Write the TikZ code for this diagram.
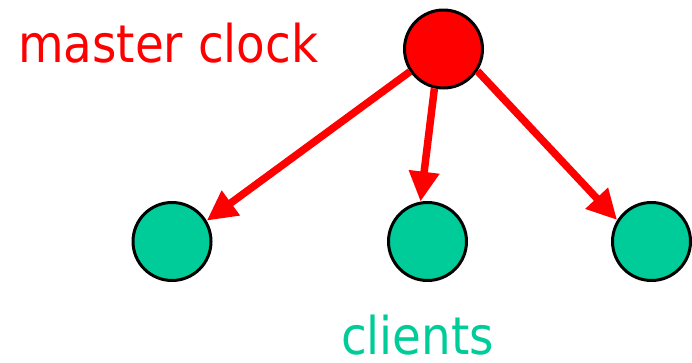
\documentclass[tikz,border=0pt]{standalone}
\usepackage{fontspec}
\setmainfont{DejaVu Sans Condensed}
\usetikzlibrary{arrows.meta}
\definecolor{clientgreen}{RGB}{0,204,153}
\definecolor{clockred}{RGB}{255,0,0}
\tikzset{
  master/.style={circle, draw=black, line width=3pt, fill=clockred, minimum size=78pt, inner sep=0pt},
  client/.style={circle, draw=black, line width=3pt, fill=clientgreen, minimum size=78pt, inner sep=0pt},
  sync/.style={draw=clockred, line width=7.5pt, -{Triangle[length=30pt, width=29pt]}},
  lbl/.style={font=\fontsize{52}{60}\selectfont, anchor=base west, inner sep=0pt, text depth=0pt}
}
\begin{document}
\begin{tikzpicture}[x=1pt, y=-1pt]
\useasboundingbox (0,0) rectangle (692,362);
\node[master] (m) at (443.5,49) {};
\node[client] (c1) at (172,241.5) {};
\node[client] (c2) at (427.5,241.5) {};
\node[client] (c3) at (651.5,241.5) {};
\node[lbl, text=clockred] (t1) at (18,62) {master clock};
\node[lbl, text=clientgreen] (t2) at (341,354) {clients};
\draw[sync] (m.214) -- (c1.31);
\draw[sync] (m.-103) -- (c2.100);
\draw[sync] (m.-33) -- (c3.148);
\end{tikzpicture}
\end{document}
